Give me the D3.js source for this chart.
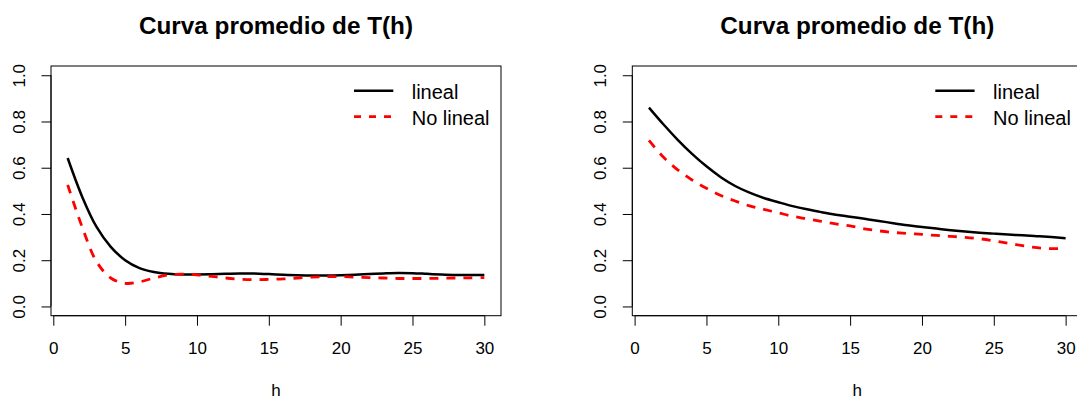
<!DOCTYPE html>
<html>
<head>
<meta charset="utf-8">
<script src="https://cdn.jsdelivr.net/npm/d3@7"></script>
<style>
  html, body { margin: 0; padding: 0; background: #fff; }
  svg { display: block; font-family: "Liberation Sans", Arial, sans-serif; }
</style>
</head>
<body>
<svg id="chart" width="1077" height="398"></svg>
<script>
// lag values
const h = d3.range(1, 31);

// average T(h) curves, left panel
const linealA = [0.642, 0.476, 0.345, 0.258, 0.200, 0.166, 0.149, 0.141, 0.138, 0.138,
                 0.139, 0.141, 0.143, 0.142, 0.140, 0.137, 0.135, 0.134, 0.134, 0.135,
                 0.137, 0.140, 0.143, 0.145, 0.144, 0.141, 0.138, 0.136, 0.136, 0.136];
const noLinealA = [0.526, 0.345, 0.195, 0.123, 0.100, 0.106, 0.123, 0.136, 0.140, 0.137,
                   0.130, 0.123, 0.118, 0.116, 0.117, 0.119, 0.123, 0.127, 0.129, 0.129,
                   0.127, 0.125, 0.123, 0.121, 0.121, 0.121, 0.122, 0.123, 0.124, 0.125];

// average T(h) curves, right panel
const linealB = [0.860, 0.788, 0.721, 0.660, 0.606, 0.559, 0.521, 0.492, 0.469, 0.451,
                 0.434, 0.420, 0.408, 0.397, 0.388, 0.379, 0.370, 0.360, 0.351, 0.344,
                 0.337, 0.330, 0.324, 0.319, 0.315, 0.311, 0.308, 0.304, 0.300, 0.295];
const noLinealB = [0.718, 0.646, 0.591, 0.547, 0.511, 0.480, 0.456, 0.435, 0.420, 0.405,
                   0.390, 0.379, 0.368, 0.357, 0.348, 0.336, 0.327, 0.320, 0.316, 0.312,
                   0.307, 0.303, 0.299, 0.293, 0.284, 0.273, 0.263, 0.254, 0.250, 0.251];

const xTicks = [0, 5, 10, 15, 20, 25, 30];
const yTicks = [0, 0.2, 0.4, 0.6, 0.8, 1.0];
const seriesNames = ["lineal", "No lineal"];
const titleText = "Curva promedio de T(h)";
const xLabel = "h";

const svg = d3.select("#chart");
const FONT = "Liberation Sans, Arial, sans-serif";

function panel(left, series1, series2) {
  const top = 66, bottom = 315.7, width = 450;
  const x = d3.scaleLinear().domain([-0.16, 31.16]).range([left, left + width]);
  const y = d3.scaleLinear().domain([-0.04, 1.04]).range([bottom, top]);
  const g = svg.append("g");

  // title
  g.append("text")
    .attr("x", left + width / 2).attr("y", 34)
    .attr("text-anchor", "middle")
    .attr("font-weight", "bold").attr("font-size", 24.3)
    .text(titleText);

  // x axis
  const xa = g.append("g").attr("transform", `translate(0,${bottom})`)
    .call(d3.axisBottom(x).tickValues(xTicks).tickSize(10).tickSizeOuter(0).tickPadding(16)
      .tickFormat(d3.format("d")));
  xa.attr("font-size", null).attr("font-family", null);
  xa.select(".domain").remove();
  xa.append("line").attr("x1", x(0)).attr("x2", x(30)).attr("stroke", "#000");
  xa.selectAll(".tick line").attr("stroke", "#000");
  xa.selectAll(".tick text").attr("font-size", 17).attr("fill", "#000")
    .attr("font-family", FONT).attr("dy", null).attr("y", 38.3);

  // y axis, labels rotated to read upward
  const ya = g.append("g").attr("transform", `translate(${left},0)`)
    .call(d3.axisLeft(y).tickValues(yTicks).tickSize(9.5).tickSizeOuter(0)
      .tickFormat(d3.format(".1f")));
  ya.attr("font-size", null).attr("font-family", null);
  ya.select(".domain").remove();
  ya.append("line").attr("y1", y(0)).attr("y2", y(1)).attr("stroke", "#000");
  ya.selectAll(".tick line").attr("stroke", "#000");
  ya.selectAll(".tick text")
    .attr("font-size", 17).attr("fill", "#000")
    .attr("font-family", FONT)
    .attr("text-anchor", "middle").attr("dy", null)
    .attr("x", null)
    .attr("transform", "translate(-26,0) rotate(-90)");

  // x label
  g.append("text")
    .attr("x", left + width / 2).attr("y", 395.5)
    .attr("text-anchor", "middle").attr("font-size", 17)
    .text(xLabel);

  // curves
  const line = d3.line().x((d, i) => x(h[i])).y(d => y(d)).curve(d3.curveCatmullRom.alpha(0.5));
  g.append("path").datum(series1).attr("d", line)
    .attr("fill", "none").attr("stroke", "#000").attr("stroke-width", 2.5);
  g.append("path").datum(series2).attr("d", line)
    .attr("fill", "none").attr("stroke", "#ff0000").attr("stroke-width", 2.8)
    .attr("stroke-dasharray", "9,8");

  // box
  g.append("rect")
    .attr("x", left).attr("y", top).attr("width", width).attr("height", bottom - top)
    .attr("fill", "none").attr("stroke", "#000").attr("stroke-width", 1);

  // legend
  const lx = left + width - 147;
  const rows = [
    { name: seriesNames[0], color: "#000", dash: null, w: 2.5, y: 90.7 },
    { name: seriesNames[1], color: "#ff0000", dash: "7,8", w: 2.8, y: 116.7 }
  ];
  rows.forEach(r => {
    g.append("line").attr("x1", lx).attr("x2", lx + 39.3)
      .attr("y1", r.y).attr("y2", r.y)
      .attr("stroke", r.color).attr("stroke-width", r.w)
      .attr("stroke-dasharray", r.dash);
    g.append("text").attr("x", lx + 57.7).attr("y", r.y + 8.3)
      .attr("font-size", 20).text(r.name);
  });
}

panel(51, linealA, noLinealA);
panel(632.3, linealB, noLinealB);
</script>
</body>
</html>
